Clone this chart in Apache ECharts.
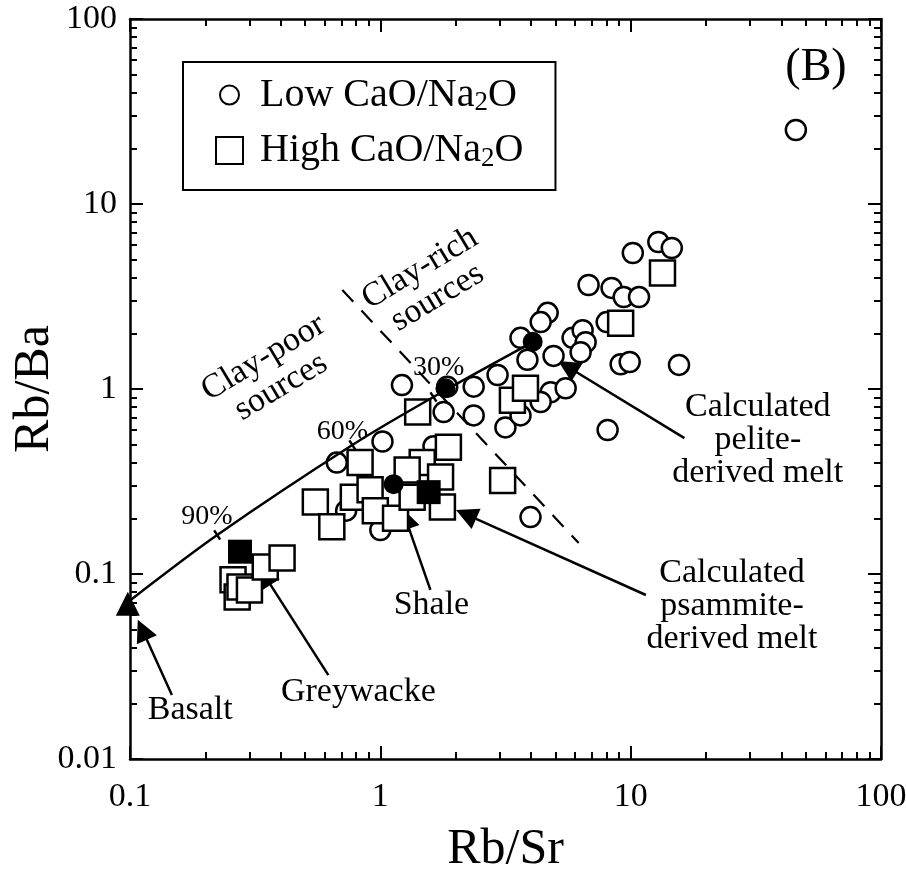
<!DOCTYPE html>
<html>
<head>
<meta charset="utf-8">
<title>Rb/Ba vs Rb/Sr</title>
<script src="https://cdn.jsdelivr.net/npm/echarts@6.0.0/dist/echarts.min.js"></script>
<style>
html, body { margin: 0; padding: 0; background: #fff; }
#chart { width: 906px; height: 872px; }
</style>
</head>
<body>
<div id="chart"></div>
<script>
"use strict";
// Low CaO/Na2O samples (open circles)
const lowX = [45.7, 10.2, 12.9, 14.6, 6.79, 8.39, 9.38, 10.8, 8.02, 9.12, 9.91, 15.6, 8.09,
    4.66, 4.37, 3.63, 5.86, 6.43, 6.61, 6.31, 4.92, 4.79, 5.50, 4.37, 3.16, 3.63, 2.36, 2.94,
    2.36, 1.85, 1.22, 1.79, 1.02, 0.67, 1.63, 3.98, 3.87, 1.00, 0.73];
const lowY = [25.1, 5.43, 6.23, 5.78, 3.65, 3.52, 3.14, 3.14, 2.30, 1.36, 1.40, 1.35, 0.60,
    2.58, 2.30, 1.89, 1.89, 2.08, 1.79, 1.58, 1.51, 0.96, 1.01, 0.85, 0.62, 0.72, 1.03, 1.19,
    0.72, 1.03, 1.05, 0.75, 0.52, 0.40, 0.49, 0.203, 1.44, 0.173, 0.22];
// High CaO/Na2O samples (open squares)
const highX = [13.4, 9.12, 3.37, 3.80, 1.41, 1.87, 0.83, 3.08, 1.47, 0.55, 0.64, 0.78, 0.91,
    0.955, 1.15, 1.28, 1.34, 1.74, 1.77, 0.258, 0.268, 0.275, 0.30, 0.347, 0.405];
const highY = [4.24, 2.27, 0.87, 1.01, 0.75, 0.485, 0.40, 0.32, 0.40, 0.245, 0.18, 0.26, 0.285,
    0.22, 0.20, 0.365, 0.26, 0.334, 0.23, 0.093, 0.075, 0.085, 0.082, 0.109, 0.122];
// reference compositions (filled symbols)
const refX = [0.098, 0.275, 1.13, 1.56, 1.82, 4.06];
const refY = [0.069, 0.132, 0.306, 0.277, 1.01, 1.80];
const refKind = ['triangle', 'rect', 'circle', 'rect', 'circle', 'circle'];
// basalt - pelite melt mixing curve and its percentage marks
const mixX = [0.1, 0.223, 0.773, 1.63, 4.06];
const mixY = [0.072, 0.1625, 0.498, 0.905, 1.79];
const mixMarks = ['', '90%', '60%', '30%', ''];
// clay-poor / clay-rich divide
const divideX = [0.705, 6.2];
const divideY = [3.43, 0.147];
// leader arrows: label end -> sample end
const arrowFrom = [[0.147, 0.0222], [0.62, 0.0284], [1.585, 0.082], [11.5, 0.077], [16.4, 0.543]];
const arrowTo = [[0.112, 0.050], [0.345, 0.098], [1.26, 0.20], [2.2, 0.21], [5.6, 1.32]];
// annotations
const noteText = ['Basalt', 'Greywacke', 'Shale', 'Calculated\npelite-\nderived melt',
    'Calculated\npsammite-\nderived melt', 'Clay-poor\nsources', 'Clay-rich\nsources',
    '90%', '60%', '30%', '(B)'];
const noteX = [0.174, 0.817, 1.6, 32.2, 25.4, 0.37, 1.56, 0.203, 0.705, 1.71, 55];
const noteY = [0.0184, 0.023, 0.068, 0.53, 0.0672, 1.23, 3.74, 0.203, 0.586, 1.30, 54.3];
// axes
const xRange = [0.1, 100];
const yRange = [0.01, 100];
const xTickLabels = ['0.1', '1', '10', '100'];
const yTickLabels = ['0.01', '0.1', '1', '10', '100'];

const chart = echarts.init(document.getElementById('chart'));
const FONT = '"Liberation Serif", "Times New Roman", serif';
const INK = '#000';

function pairs(xs, ys) {
    return xs.map((x, i) => [x, ys[i]]);
}
// 2..9 times every decade, for the short ticks
function minorTicks(lo, hi) {
    const out = [];
    for (let d = lo; d < hi * 0.99; d *= 10) {
        for (let m = 2; m <= 9; m++) {
            out.push(+(d * m).toPrecision(3));
        }
    }
    return out;
}

const axisCommon = {
    type: 'log',
    logBase: 10,
    splitLine: { show: false },
    axisLine: { show: true, onZero: false, lineStyle: { color: INK, width: 2.5 } },
    axisTick: { show: true, inside: true, length: 13, lineStyle: { color: INK, width: 2 } },
    axisLabel: { show: false }
};
// extra axes carrying only the minor ticks
const minorAxis = {
    type: 'log',
    logBase: 10,
    splitLine: { show: false },
    axisLine: { show: false },
    axisLabel: { show: false },
    axisTick: { show: true, inside: true, length: 7, lineStyle: { color: INK, width: 2 } }
};
const labelStyle = { fontFamily: FONT, fontSize: 34, color: INK };
const nameStyle = { fontFamily: FONT, fontSize: 50, color: INK };
const xMinor = minorTicks(xRange[0], xRange[1]);
const yMinor = minorTicks(yRange[0], yRange[1]);

function minorX(position) {
    return Object.assign({}, minorAxis, { min: xRange[0], max: xRange[1], position,
        axisTick: Object.assign({}, minorAxis.axisTick, { customValues: xMinor }) });
}
function minorY(position) {
    return Object.assign({}, minorAxis, { min: yRange[0], max: yRange[1], position,
        axisTick: Object.assign({}, minorAxis.axisTick, { customValues: yMinor }) });
}

const noteStyle = [
    {}, {}, {}, { lineHeight: 33 }, { lineHeight: 33 },
    { rotate: 31, lineHeight: 34 }, { rotate: 31, lineHeight: 34 },
    { fontSize: 28 }, { fontSize: 28 }, { fontSize: 28 }, { fontSize: 46 }
];

const mixData = mixX.map((x, i) => ({
    value: [x, mixY[i]],
    symbol: mixMarks[i] ? 'rect' : 'none'
}));

const option = {
    animation: false,
    backgroundColor: '#fff',
    grid: { left: 130, right: 25, top: 19, bottom: 113, containLabel: false, outerBoundsMode: 'none' },
    xAxis: [
        Object.assign({}, axisCommon, {
            min: xRange[0], max: xRange[1], position: 'bottom',
            name: 'Rb/Sr', nameLocation: 'middle', nameGap: 66, nameMoveOverlap: false,
            nameTextStyle: nameStyle,
            axisLabel: Object.assign({ show: true, margin: 21,
                formatter: (v, i) => xTickLabels[i] }, labelStyle)
        }),
        Object.assign({}, axisCommon, { min: xRange[0], max: xRange[1], position: 'top' }),
        minorX('bottom'),
        minorX('top')
    ],
    yAxis: [
        Object.assign({}, axisCommon, {
            min: yRange[0], max: yRange[1], position: 'left',
            name: 'Rb/Ba', nameLocation: 'middle', nameGap: 70, nameMoveOverlap: false,
            nameTextStyle: nameStyle,
            axisLabel: Object.assign({ show: true, margin: 13,
                formatter: (v, i) => yTickLabels[i] }, labelStyle)
        }),
        Object.assign({}, axisCommon, { min: yRange[0], max: yRange[1], position: 'right' }),
        minorY('left'),
        minorY('right')
    ],
    legend: {
        orient: 'vertical',
        left: 183,
        top: 62,
        padding: [13, 32, 18, 32],
        itemGap: 14,
        itemWidth: 27,
        itemHeight: 27,
        borderColor: INK,
        borderWidth: 2,
        selectedMode: false,
        data: [
            { name: 'Low CaO/Na2O', icon: 'path://M0,0M27,27M4,13.5a9.5,9.5 0 1 0 19,0a9.5,9.5 0 1 0 -19,0z' },
            { name: 'High CaO/Na2O', icon: 'rect' }
        ],
        formatter: name => name.replace('Na2O', 'Na{s|2}O'),
        textStyle: {
            fontFamily: FONT, fontSize: 40, color: INK, padding: [0, 0, 0, 12],
            rich: { s: { fontFamily: FONT, fontSize: 27, color: INK, padding: [16, 0, 0, 0] } }
        }
    },
    series: [
        {
            type: 'line', name: 'mixing', smooth: 0.3, silent: true,
            data: mixData,
            symbolSize: [2.5, 11], symbolRotate: 33,
            itemStyle: { color: INK, opacity: 1 },
            lineStyle: { color: INK, width: 2.5 }
        },
        {
            type: 'scatter', name: 'Low CaO/Na2O', symbol: 'circle', symbolSize: 20, clip: false,
            data: pairs(lowX, lowY),
            itemStyle: { color: '#fff', borderColor: INK, borderWidth: 2.5, opacity: 1 }
        },
        {
            type: 'scatter', name: 'High CaO/Na2O', symbol: 'rect', symbolSize: 25, clip: false,
            data: pairs(highX, highY),
            itemStyle: { color: '#fff', borderColor: INK, borderWidth: 2.5, opacity: 1 }
        },
        {
            type: 'scatter', name: 'reference', clip: false, silent: true,
            data: refX.map((x, i) => ({
                value: [x, refY[i]],
                symbol: refKind[i],
                symbolSize: refKind[i] === 'circle' ? 20 : 24
            })),
            itemStyle: { color: INK, opacity: 1 }
        },
        {
            type: 'line', name: 'divide', silent: true, symbol: 'none',
            data: pairs(divideX, divideY),
            lineStyle: { color: INK, width: 2.2, type: [16, 12] }
        },
        {
            type: 'lines', name: 'arrows', coordinateSystem: 'cartesian2d', silent: true,
            symbol: ['none', 'triangle'], symbolSize: 22,
            lineStyle: { color: INK, width: 2.5, opacity: 1, curveness: 0 },
            data: arrowFrom.map((f, i) => ({ coords: [f, arrowTo[i]] }))
        },
        {
            type: 'scatter', name: 'notes', silent: true, clip: false, symbolSize: 1,
            itemStyle: { color: 'rgba(0,0,0,0)', opacity: 1 },
            label: {
                show: true, position: 'inside', formatter: p => p.name, opacity: 1,
                fontFamily: FONT, fontSize: 34, color: INK, align: 'center', verticalAlign: 'middle'
            },
            data: noteText.map((t, i) => ({
                name: t,
                value: [noteX[i], noteY[i]],
                label: noteStyle[i]
            }))
        }
    ]
};
chart.setOption(option);
</script>
</body>
</html>
